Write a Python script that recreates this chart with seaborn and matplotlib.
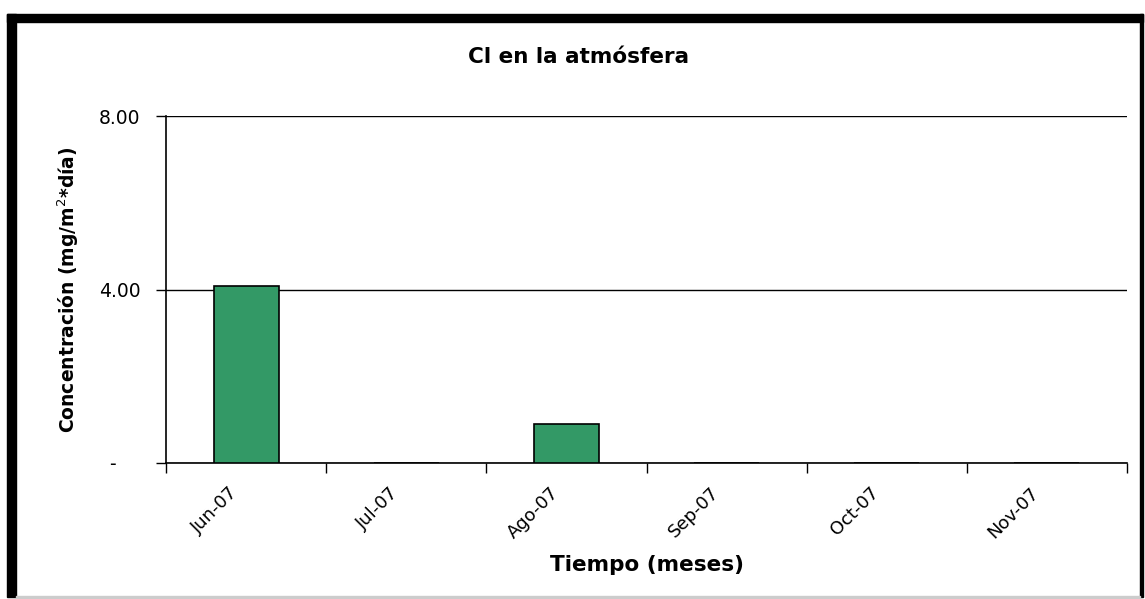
import numpy as np
import pandas as pd
import seaborn as sns
import matplotlib.pyplot as plt
from matplotlib.patches import Rectangle
from matplotlib.transforms import ScaledTranslation

# -------------------------------
# 1. Data
# -------------------------------
meses = ["Jun-07", "Jul-07", "Ago-07", "Sep-07", "Oct-07", "Nov-07"]
concentracion = [4.08, 0.0, 0.90, 0.0, 0.0, 0.0]
y_ticks = [0, 4, 8]
y_tick_labels = ["-    ", "4.00", "8.00"]

df = pd.DataFrame({"mes": meses, "valor": concentracion})

# -------------------------------
# 2. Figure
# -------------------------------
sns.set_style("white")
plt.rcParams["font.family"] = ["DejaVu Sans"]
plt.rcParams["text.color"] = "black"
plt.rcParams["axes.labelcolor"] = "black"
plt.rcParams["xtick.color"] = "black"
plt.rcParams["ytick.color"] = "black"

fig = plt.figure(figsize=(11.45, 5.99), dpi=100)
W, H = 1145, 599
ax = fig.add_axes([166 / W, 1 - 463 / H, (1127 - 166) / W, (463 - 116) / H])

sns.barplot(data=df, x="mes", y="valor", color="#339966", edgecolor="black",
            linewidth=1.2, width=0.405, saturation=1, ax=ax, zorder=3)

# -------------------------------
# 3. Axes styling
# -------------------------------
ax.set_xlim(-0.5, len(meses) - 0.5)
ax.set_ylim(0, 8)
ax.set_yticks(y_ticks)
ax.set_yticklabels(y_tick_labels, fontsize=13.5)
ax.yaxis.grid(True, color="black", linewidth=1.0, zorder=0)
ax.set_axisbelow(True)
ax.tick_params(axis="y", length=7, width=1, color="black", pad=11.5, direction="out", left=True)

# category boundaries as major ticks, labels on the centers (minor)
ax.set_xticks(np.arange(-0.5, len(meses), 1.0))
ax.set_xticklabels([])
ax.set_xticks(np.arange(len(meses)), minor=True)
ax.set_xticklabels(meses, minor=True, rotation=45, ha="right",
                   rotation_mode="anchor", fontsize=13)
ax.tick_params(axis="x", which="major", length=7, width=1, color="black",
               direction="out", bottom=True)
ax.tick_params(axis="x", which="minor", length=0, pad=15)
shift = ScaledTranslation(-0.17, 0, fig.dpi_scale_trans)
for lab in ax.get_xticklabels(minor=True):
    lab.set_transform(lab.get_transform() + shift)

for s in ["top", "right"]:
    ax.spines[s].set_visible(False)
for s in ["left", "bottom"]:
    ax.spines[s].set_color("black")
    ax.spines[s].set_linewidth(1.2)

ax.set_xlabel("Tiempo (meses)", fontsize=15.5, fontweight="bold", labelpad=9)
ax.set_ylabel("Concentración (mg/m$^{2}$*día)", fontsize=13.5, fontweight="bold", labelpad=13)
fig.text(579 / W, 1 - 57 / H, "Cl en la atmósfera", ha="center", va="center",
         fontsize=15.5, fontweight="bold")

# frame around the chart
fig.patches.append(Rectangle((7 / W, 1 - 597 / H), 9 / W, 583 / H,
                             transform=fig.transFigure, color="black"))
fig.patches.append(Rectangle((7 / W, 1 - 22 / H), 1136 / W, 8 / H,
                             transform=fig.transFigure, color="black"))
fig.patches.append(Rectangle((1140 / W, 1 - 597 / H), 3 / W, 583 / H,
                             transform=fig.transFigure, color="black"))
fig.patches.append(Rectangle((16 / W, 1 - 598 / H), 1124 / W, 2 / H,
                             transform=fig.transFigure, color="#cccccc"))

fig.savefig("out.png", dpi=100)
